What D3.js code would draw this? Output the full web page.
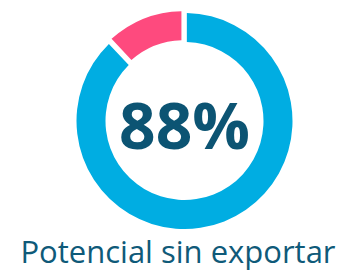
<!DOCTYPE html>
<html>
<head>
<meta charset="utf-8">
<script src="https://cdn.jsdelivr.net/npm/d3@7"></script>
<style>
  body { margin: 0; background: #fff; }
  svg { display: block; }
</style>
</head>
<body>
<div id="chart"></div>
<script>
var width = 343,
    height = 270;

// data
var categories = ["Potencial sin exportar", "Exportado"];
var values = [88, 12];
var colors = ["#00ade2", "#fe4a7e"];
var centerLabel = "88%";
var caption = "Potencial sin exportar";

var cx = 184.5,
    cy = 121,
    outerR = 108,
    innerR = 79;

var svg = d3.select("#chart").append("svg")
    .attr("width", width)
    .attr("height", height);

var pie = d3.pie()
    .sort(null)
    .value(function(d) { return d; });

var arc = d3.arc()
    .innerRadius(innerR)
    .outerRadius(outerR)
    .padAngle(0.035);

var g = svg.append("g")
    .attr("transform", "translate(" + cx + "," + cy + ")");

var arcs = pie(values);

g.selectAll("path")
    .data(arcs)
    .enter()
    .append("path")
    .attr("d", arc)
    .attr("fill", function(d, i) { return colors[i]; })
    // small pop-out for the smaller slice
    .attr("transform", function(d, i) {
        if (i == 0) return null;
        var a = (d.startAngle + d.endAngle) / 2;
        return "translate(" + (Math.sin(a) * 2) + "," + (-Math.cos(a) * 2) + ")";
    });

g.append("text")
    .attr("x", 0)
    .attr("y", 28)
    .attr("text-anchor", "middle")
    .style("font-family", "'Open Sans', sans-serif")
    .style("font-weight", "bold")
    .style("font-size", "64px")
    .style("fill", "#0c5473")
    .text(centerLabel);

svg.append("text")
    .attr("x", 178)
    .attr("y", 263)
    .attr("text-anchor", "middle")
    .style("font-family", "'Open Sans', sans-serif")
    .style("font-size", "31px")
    .style("fill", "#0f5a79")
    .text(caption);
</script>
</body>
</html>
